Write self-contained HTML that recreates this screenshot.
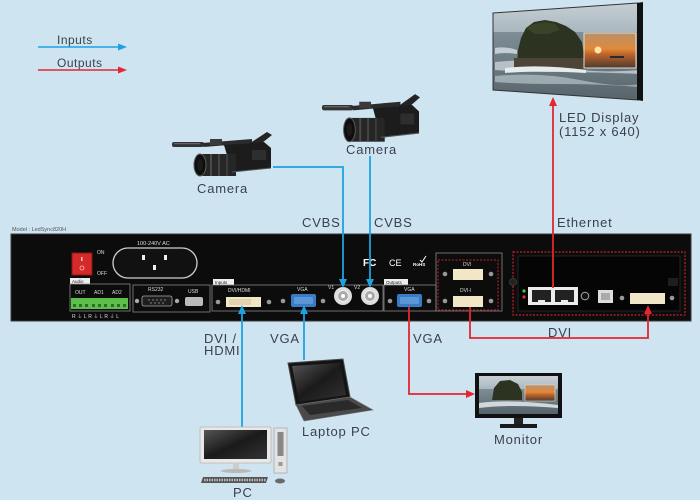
<!DOCTYPE html>
<html><head><meta charset="utf-8"><style>
html,body{margin:0;padding:0;background:#cfe4f1;}
svg{display:block;}
.lb{font-family:"Liberation Sans",Arial,sans-serif;font-size:13px;fill:#3b404c;letter-spacing:0.8px;}
.sm{font-family:"Liberation Sans",Arial,sans-serif;fill:#dddddd;}
</style></head><body>
<svg width="700" height="500" viewBox="0 0 700 500" xmlns="http://www.w3.org/2000/svg">
<defs>
<linearGradient id="sky" x1="0" y1="0" x2="0" y2="1"><stop offset="0" stop-color="#c9d1d7"/><stop offset="1" stop-color="#a8b5bd"/></linearGradient>
<linearGradient id="sea" x1="0" y1="0" x2="0" y2="1"><stop offset="0" stop-color="#7f8e96"/><stop offset="1" stop-color="#56636a"/></linearGradient>
<linearGradient id="sun" x1="0" y1="0" x2="0" y2="1"><stop offset="0" stop-color="#b8906a"/><stop offset="0.45" stop-color="#e08a3a"/><stop offset="0.6" stop-color="#c0642a"/><stop offset="1" stop-color="#4a3a30"/></linearGradient>
<linearGradient id="scr" x1="0" y1="0" x2="1" y2="1"><stop offset="0" stop-color="#555"/><stop offset="0.5" stop-color="#1a1a1a"/><stop offset="1" stop-color="#333"/></linearGradient>
<clipPath id="ledclip"><polygon points="493,13 638,3 638,100 493,90"/></clipPath>
<clipPath id="monclip"><rect x="479" y="376" width="79" height="38"/></clipPath>
<g id="cam">
  <rect x="0" y="12" width="32" height="5" rx="2" fill="#333"/>
  <rect x="2" y="13" width="26" height="1.2" fill="#666"/>
  <path d="M30,13 L80,9 L80,13 L32,17 Z" fill="#2b2b2b"/>
  <rect x="38" y="9" width="12" height="6" fill="#3a3a3a"/>
  <path d="M72,17 L95,2 L100,5 L80,21 Z" fill="#242424"/>
  <path d="M52,15 L92,12 L99,18 L99,38 L60,42 Z" fill="#1c1c1c"/>
  <rect x="80" y="20" width="14" height="10" fill="#2e2e2e"/>
  <rect x="28" y="24" width="36" height="22" fill="#262626"/>
  <rect x="38" y="24" width="2" height="22" fill="#4a4a4a"/>
  <rect x="46" y="24" width="2" height="22" fill="#444"/>
  <rect x="54" y="24" width="2" height="22" fill="#3c3c3c"/>
  <ellipse cx="28" cy="35" rx="6" ry="11" fill="#0e0e0e" stroke="#5a5a5a" stroke-width="1"/>
  <ellipse cx="28" cy="35" rx="3" ry="6" fill="#1a1a1a"/>
  <path d="M60,42 L99,38" stroke="#555" stroke-width="1"/>
</g>
</defs>

<rect x="0" y="0" width="700" height="500" fill="#cfe4f1"/>

<!-- Legend -->
<text class="lb" x="57" y="44" style="font-size:12px;letter-spacing:0.5px">Inputs</text>
<line x1="38" y1="47" x2="120" y2="47" stroke="#1da1e2" stroke-width="1.6"/>
<polygon points="118,43.5 127,47 118,50.5" fill="#1da1e2"/>
<text class="lb" x="57" y="67" style="font-size:12px;letter-spacing:0.5px">Outputs</text>
<line x1="38" y1="70" x2="120" y2="70" stroke="#e3262f" stroke-width="1.6"/>
<polygon points="118,66.5 127,70 118,73.5" fill="#e3262f"/>

<!-- LED Display -->
<g clip-path="url(#ledclip)">
  <rect x="490" y="0" width="150" height="34" fill="url(#sky)"/>
  <rect x="490" y="32" width="150" height="70" fill="url(#sea)"/>
  <path d="M495,62 Q530,58 560,66 T640,70 L640,74 Q600,72 560,72 T495,70 Z" fill="#c9d3d8" opacity="0.8"/>
  <path d="M495,76 Q540,72 580,80 T640,84 L640,87 Q600,84 560,84 T495,82 Z" fill="#b7c3c9" opacity="0.7"/>
  <path d="M495,48 Q505,46 517,50 L517,54 Q505,52 495,54 Z" fill="#d8e0e4" opacity="0.8"/>
  <path d="M517,68 L518,50 L521,38 L526,28 L534,22 L545,20 L556,22 L566,26 L575,32 L582,42 L584,55 L584,68 Z" fill="#2c3320"/>
  <path d="M526,28 L534,24 L545,22 L555,24 L560,30 L548,34 L535,34 Z" fill="#3a4328"/>
  <rect x="514" y="58" width="72" height="11" fill="#4c4437"/>
  <path d="M505,68 Q540,64 586,70 L586,73 Q540,70 505,73 Z" fill="#e6ecee"/>
  <rect x="584" y="33" width="52" height="35" fill="url(#sun)" stroke="#e6dccc" stroke-width="1"/>
  <circle cx="598" cy="50" r="3.5" fill="#ffe4a8"/>
  <rect x="610" y="56" width="14" height="2" fill="#2a2a2a"/>
</g>
<polygon points="493,13 638,3 638,100 493,90" fill="none" stroke="#333" stroke-width="1"/>
<polygon points="637,3 643,2 643,101 637,100" fill="#111"/>

<!-- Cameras -->
<use href="#cam" transform="translate(172,130)"/>
<use href="#cam" transform="translate(322,92) scale(0.98,1.08)"/>
<text class="lb" x="197" y="193">Camera</text>
<text class="lb" x="346" y="154">Camera</text>

<!-- Panel -->
<text class="sm" x="12" y="231" style="font-size:5.5px;fill:#555">Model : LedSync820H</text>
<rect x="11" y="234" width="680" height="87" fill="#0c0c0c" stroke="#3a3a3a" stroke-width="1"/>

<!-- switch -->
<rect x="72" y="253" width="20" height="22" fill="#d42a2a" stroke="#8a1515" stroke-width="1"/>
<rect x="81" y="257" width="1.5" height="4" fill="#fbb"/>
<circle cx="82" cy="268" r="2" fill="none" stroke="#fbb" stroke-width="0.8"/>
<text class="sm" x="97" y="254" style="font-size:5px">ON</text>
<text class="sm" x="97" y="275" style="font-size:5px">OFF</text>

<!-- AC -->
<text class="sm" x="137" y="245" style="font-size:5.5px">100-240V AC</text>
<rect x="113" y="248" width="84" height="30" rx="15" fill="#111" stroke="#cfcfcf" stroke-width="1.3"/>
<rect x="142" y="255" width="3" height="5" fill="#eee"/>
<rect x="164" y="255" width="3" height="5" fill="#eee"/>
<rect x="153" y="265" width="3" height="5" fill="#eee"/>

<!-- Audio -->
<rect x="70" y="278" width="20" height="6" fill="#eee"/>
<text x="72" y="283" style="font-family:'Liberation Sans',sans-serif;font-size:4.5px;fill:#222">Audio</text>
<rect x="70" y="284" width="60" height="27" fill="none" stroke="#888" stroke-width="0.8"/>
<text class="sm" x="75" y="294" style="font-size:5px">OUT</text>
<text class="sm" x="94" y="294" style="font-size:5px">AD1</text>
<text class="sm" x="112" y="294" style="font-size:5px">AD2</text>
<rect x="71" y="298" width="57" height="11" fill="#5dbf4b"/>
<g fill="#2e6e28">
<rect x="73" y="304" width="3" height="3"/><rect x="79" y="304" width="3" height="3"/><rect x="85" y="304" width="3" height="3"/>
<rect x="92" y="304" width="3" height="3"/><rect x="98" y="304" width="3" height="3"/><rect x="104" y="304" width="3" height="3"/>
<rect x="111" y="304" width="3" height="3"/><rect x="117" y="304" width="3" height="3"/><rect x="123" y="304" width="3" height="3"/>
</g>
<text class="sm" x="72" y="318" style="font-size:5px;letter-spacing:1.6px">R⏚LR⏚LR⏚L</text>

<!-- RS232/USB -->
<rect x="133" y="285" width="77" height="27" fill="none" stroke="#888" stroke-width="0.8"/>
<text class="sm" x="148" y="291" style="font-size:5px">RS232</text>
<circle cx="137" cy="301" r="2.2" fill="#aaa"/>
<rect x="142" y="296" width="30" height="10" rx="2" fill="#1e1e1e" stroke="#aaa" stroke-width="0.8"/>
<g fill="#999"><circle cx="149" cy="300" r="0.7"/><circle cx="153" cy="300" r="0.7"/><circle cx="157" cy="300" r="0.7"/><circle cx="161" cy="300" r="0.7"/><circle cx="165" cy="300" r="0.7"/><circle cx="151" cy="303" r="0.7"/><circle cx="155" cy="303" r="0.7"/><circle cx="159" cy="303" r="0.7"/><circle cx="163" cy="303" r="0.7"/></g>
<circle cx="177" cy="301" r="2.2" fill="#aaa"/>
<text class="sm" x="188" y="293" style="font-size:5px">USB</text>
<rect x="185" y="297" width="18" height="9" rx="2" fill="#bbb"/>

<!-- Inputs -->
<rect x="213" y="279" width="21" height="6" fill="#eee"/>
<text x="215" y="284" style="font-family:'Liberation Sans',sans-serif;font-size:4.5px;fill:#222">Inputs</text>
<rect x="212" y="285" width="171" height="26" fill="none" stroke="#888" stroke-width="0.8"/>
<text class="sm" x="228" y="292" style="font-size:5px">DVI/HDMI</text>
<circle cx="218" cy="302" r="2.3" fill="#999"/>
<rect x="226" y="297" width="35" height="10" fill="#f1e6c6"/>
<rect x="229" y="299" width="22" height="6" fill="#e0d3ae"/>
<circle cx="269" cy="302" r="2.3" fill="#999"/>
<text class="sm" x="297" y="291" style="font-size:5px">VGA</text>
<circle cx="283" cy="301" r="2.3" fill="#999"/>
<rect x="291" y="294" width="25" height="13" rx="2" fill="#3a7cc4"/>
<rect x="294" y="297" width="19" height="7" rx="1" fill="#5b96d6"/>
<circle cx="323" cy="301" r="2.3" fill="#999"/>
<text class="sm" x="328" y="289" style="font-size:5px">V1</text>
<text class="sm" x="354" y="289" style="font-size:5px">V2</text>
<circle cx="343" cy="296" r="9" fill="#ddd"/><circle cx="343" cy="296" r="5.5" fill="#aaa" stroke="#eee" stroke-width="1"/><circle cx="343" cy="296" r="2" fill="#fff"/>
<circle cx="370" cy="296" r="9" fill="#ddd"/><circle cx="370" cy="296" r="5.5" fill="#aaa" stroke="#eee" stroke-width="1"/><circle cx="370" cy="296" r="2" fill="#fff"/>

<!-- logos -->
<text x="363" y="266" style="font-family:'Liberation Sans',sans-serif;font-size:10px;font-weight:bold;fill:#fff">FC</text>
<text x="389" y="266" style="font-family:'Liberation Sans',sans-serif;font-size:9px;fill:#fff">CE</text>
<text x="413" y="266" style="font-family:'Liberation Sans',sans-serif;font-size:4.5px;font-weight:bold;fill:#fff">RoHS</text>
<path d="M420,260 L422,262 L426,256" stroke="#fff" stroke-width="1" fill="none"/>

<!-- Outputs -->
<rect x="384" y="279" width="24" height="6" fill="#eee"/>
<text x="386" y="284" style="font-family:'Liberation Sans',sans-serif;font-size:4.5px;fill:#222">Outputs</text>
<rect x="384" y="285" width="52" height="26" fill="none" stroke="#888" stroke-width="0.8"/>
<text class="sm" x="404" y="291" style="font-size:5px">VGA</text>
<circle cx="390" cy="301" r="2.3" fill="#999"/>
<rect x="397" y="294" width="25" height="13" rx="2" fill="#3a7cc4"/>
<rect x="400" y="297" width="19" height="7" rx="1" fill="#5b96d6"/>
<circle cx="429" cy="301" r="2.3" fill="#999"/>

<!-- DVI out box -->
<rect x="436" y="253" width="66" height="58" fill="none" stroke="#888" stroke-width="0.8"/>
<rect x="438" y="260" width="60" height="50" fill="none" stroke="#c0222a" stroke-width="1" stroke-dasharray="2,1.5"/>
<text class="sm" x="463" y="266" style="font-size:5px">DVI</text>
<circle cx="445" cy="274" r="2.3" fill="#999"/>
<rect x="453" y="269" width="30" height="11" fill="#f1e6c6"/>
<circle cx="491" cy="274" r="2.3" fill="#999"/>
<text class="sm" x="460" y="292" style="font-size:5px">DVI-I</text>
<circle cx="445" cy="301" r="2.3" fill="#999"/>
<rect x="453" y="296" width="30" height="11" fill="#f1e6c6"/>
<circle cx="491" cy="301" r="2.3" fill="#999"/>

<!-- Right module -->
<rect x="513" y="252" width="172" height="63" fill="none" stroke="#c0222a" stroke-width="1.2" stroke-dasharray="2,1.5"/>
<rect x="518" y="256" width="162" height="55" fill="#050505" stroke="#2a2a2a" stroke-width="0.8"/>
<circle cx="513" cy="282" r="3.5" fill="#222" stroke="#444" stroke-width="0.8"/>
<rect x="668" y="278" width="10" height="8" fill="#1e1e1e"/>
<circle cx="524" cy="291" r="1.6" fill="#4c4"/>
<circle cx="524" cy="297" r="1.6" fill="#d33"/>
<rect x="528" y="287" width="50" height="18" fill="#ececec"/>
<rect x="532" y="290" width="19" height="12" fill="#222"/>
<rect x="555" y="290" width="19" height="12" fill="#222"/>
<rect x="538" y="300" width="7" height="2" fill="#ececec"/>
<rect x="561" y="300" width="7" height="2" fill="#ececec"/>
<circle cx="585" cy="296" r="3.8" fill="#111" stroke="#aaa" stroke-width="1"/>
<rect x="598" y="290" width="15" height="13" fill="#ddd"/>
<rect x="601" y="293" width="9" height="7" fill="#aaa"/>
<circle cx="622" cy="298" r="2.3" fill="#999"/>
<rect x="630" y="293" width="35" height="11" fill="#f1e6c6"/>
<circle cx="672" cy="298" r="2.3" fill="#999"/>

<!-- Blue input lines -->
<g stroke="#1da1e2" stroke-width="1.8" fill="none">
<path d="M273,167 H343 V281"/>
<path d="M370,156 V281"/>
<path d="M242,427 V312"/>
<path d="M304,360 V312"/>
</g>
<g fill="#1da1e2">
<polygon points="339,279 347,279 343,288"/>
<polygon points="366,279 374,279 370,288"/>
<polygon points="238,314 246,314 242,305"/>
<polygon points="300,314 308,314 304,305"/>
</g>

<!-- Red output lines -->
<g stroke="#e3262f" stroke-width="1.8" fill="none">
<path d="M409,307 V394 H466"/>
<path d="M470,307 V338 H648 V312"/>
<path d="M553,288 V105"/>
</g>
<g fill="#e3262f">
<polygon points="466,390 466,398 475,394"/>
<polygon points="644,314 652,314 648,305"/>
<polygon points="549,106 557,106 553,97"/>
</g>

<!-- Labels -->
<text class="lb" x="559" y="122">LED Display</text>
<text class="lb" x="559" y="136">(1152 x 640)</text>
<text class="lb" x="557" y="227">Ethernet</text>
<text class="lb" x="302" y="227">CVBS</text>
<text class="lb" x="374" y="227">CVBS</text>
<text class="lb" x="204" y="343">DVI /</text>
<text class="lb" x="204" y="355">HDMI</text>
<text class="lb" x="270" y="343">VGA</text>
<text class="lb" x="413" y="343">VGA</text>
<text class="lb" x="548" y="337">DVI</text>

<!-- Laptop -->
<polygon points="288,363 343,359 350,397 296,405" fill="#141414" stroke="#4a4a4a" stroke-width="1"/>
<polygon points="292,366 340,363 346,395 299,402" fill="url(#scr)"/>
<polygon points="296,405 350,397 373,410 304,421" fill="#4a4a4a" stroke="#777" stroke-width="0.6"/>
<polygon points="302,406 348,400 362,408 310,415" fill="#2a2a2a"/>
<text class="lb" x="302" y="436">Laptop PC</text>

<!-- Monitor -->
<rect x="475" y="373" width="87" height="45" fill="#111"/>
<g clip-path="url(#monclip)">
  <rect x="479" y="376" width="79" height="14" fill="url(#sky)"/>
  <rect x="479" y="389" width="79" height="25" fill="url(#sea)"/>
  <path d="M479,403 Q510,399 558,405 L558,408 Q510,404 479,408 Z" fill="#d0d8dc"/>
  <path d="M492,400 L494,388 L500,381 L510,380 L518,384 L522,392 L522,400 Z" fill="#2c3320"/>
  <rect x="525" y="385" width="30" height="16" fill="url(#sun)" stroke="#e6dccc" stroke-width="0.6"/>
</g>
<rect x="514" y="418" width="9" height="6" fill="#222"/>
<rect x="500" y="424" width="37" height="4" fill="#1a1a1a"/>
<text class="lb" x="494" y="444">Monitor</text>

<!-- PC -->
<rect x="200" y="427" width="71" height="36" rx="1.5" fill="#e8e8e8" stroke="#b5b5b5" stroke-width="0.8"/>
<rect x="204" y="430" width="63" height="29" fill="url(#scr)"/>
<rect x="233" y="463" width="6" height="7" fill="#ccc"/>
<ellipse cx="236" cy="471" rx="15" ry="2" fill="#b8b8b8"/>
<rect x="274" y="428" width="13" height="45" fill="#e3e3e3" stroke="#aaa" stroke-width="0.8"/>
<rect x="277.5" y="432" width="6" height="24" fill="#888"/>
<rect x="278.5" y="462" width="4" height="4" fill="#999"/>
<polygon points="203,477 268,477 266,483 201,483" fill="#555"/>
<line x1="204" y1="480" x2="266" y2="480" stroke="#bbb" stroke-width="2.5" stroke-dasharray="1.5,1"/>
<ellipse cx="280" cy="481" rx="5" ry="2.5" fill="#6a6a6a"/>
<text class="lb" x="233" y="497">PC</text>
</svg>
</body></html>
